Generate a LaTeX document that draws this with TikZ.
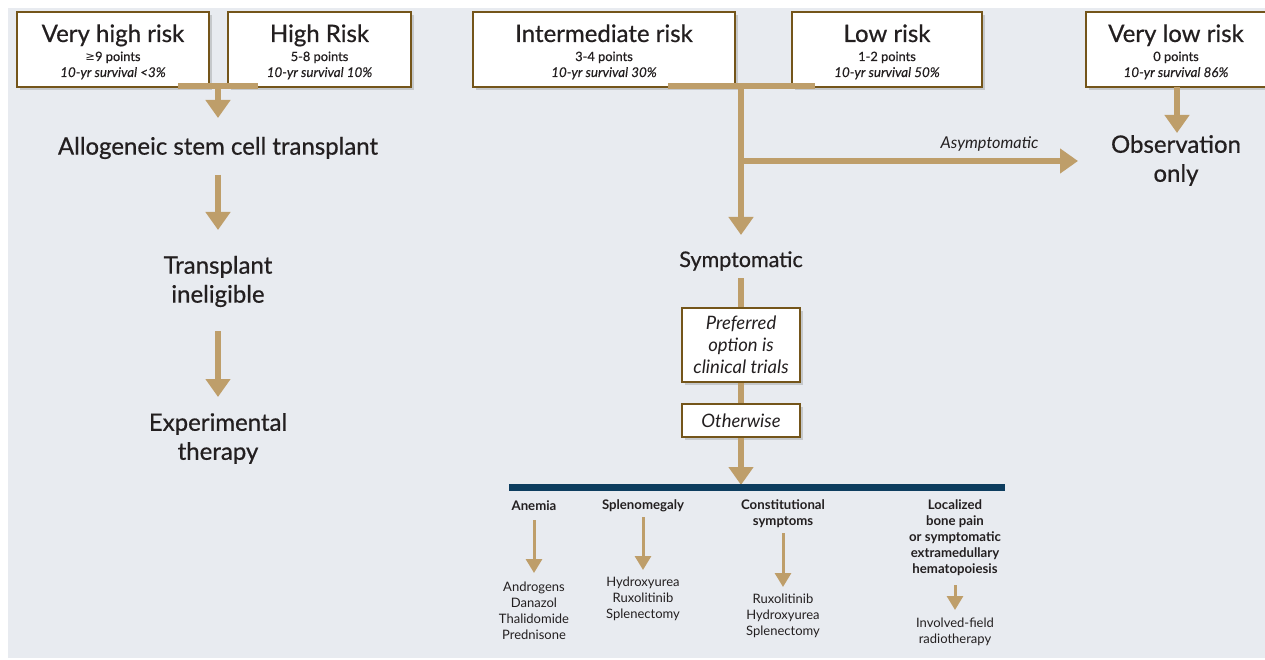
\documentclass[tikz,border=0pt]{standalone}
\usepackage{fontspec}
\setmainfont{Lato}
\newfontfamily\medf{Lato}[FakeBold=0.6]
\newfontfamily\medi{Lato Italic}[FakeBold=0.25]
\newfontfamily\dv{DejaVu Sans}
\usetikzlibrary{arrows.meta,shadows}
\definecolor{bg}{HTML}{E8EBF0}
\definecolor{tanc}{HTML}{BE9E6A}
\definecolor{boxc}{HTML}{74551A}
\definecolor{navy}{HTML}{0D3D5F}
\definecolor{txt}{HTML}{231F20}
\tikzset{
  riskbox/.style={draw=boxc, line width=2.6pt, fill=white, inner sep=0pt,
    drop shadow={shadow xshift=3pt, shadow yshift=-3pt, opacity=0.22, fill=black!70}},
  ttl/.style={anchor=base, font=\medf\fontsize{24}{28}\selectfont},
  pts/.style={anchor=base, font=\medf\fontsize{12.8}{15}\selectfont},
  srv/.style={anchor=base, font=\medi\fontsize{13.4}{15}\selectfont},
  big/.style={align=center, font=\medf\fontsize{24}{29}\selectfont},
  tline/.style={draw=tanc, line width=6pt},
  tarr/.style={tline, -{Triangle[width=24pt,length=18pt]}},
  sarr/.style={draw=tanc, line width=3pt, -{Triangle[width=16pt,length=14pt]}},
  head/.style={align=center, font=\fontsize{13.2}{16}\selectfont\bfseries},
  lst/.style={align=center, font=\fontsize{13}{16}\selectfont},
  optbox/.style={draw=boxc, line width=2.6pt, fill=white, inner sep=0pt, align=center,
    font=\fontsize{18.5}{22}\selectfont\itshape,
    drop shadow={shadow xshift=3pt, shadow yshift=-3pt, opacity=0.22, fill=black!70}},
}
\begin{document}
\begin{tikzpicture}[x=1pt,y=-1pt, every node/.style={text=txt}]
\useasboundingbox (0,0) rectangle (1265,660);
\fill[white] (0,0) rectangle (1265,660);
\fill[bg] (8,8) rectangle (1265,658);

% risk boxes
\node[riskbox, minimum width=192pt, minimum height=75pt] (vh) at (113,49.5) {};
\node[riskbox, minimum width=183pt, minimum height=75pt] (hr) at (319.5,49.5) {};
\node[riskbox, minimum width=262pt, minimum height=75pt] (ir) at (604,49.5) {};
\node[riskbox, minimum width=190pt, minimum height=75pt] (lr) at (887,49.5) {};
\node[riskbox, minimum width=180pt, minimum height=75pt] (vl) at (1176,49.5) {};

\node[ttl] (vht) at (113,42) {Very high risk};
\node[pts] (vhp) at (113,61) {{\dv\fontsize{11.5}{14}\selectfont ≥}9 points};
\node[srv] (vhs) at (113,77) {10-yr survival <3\%};
\node[ttl] (hrt) at (319.5,42) {High Risk};
\node[pts] (hrp) at (319.5,61) {5-8 points};
\node[srv] (hrs) at (319.5,77) {10-yr survival 10\%};
\node[ttl] (irt) at (604,42) {Intermediate risk};
\node[pts] (irp) at (604,61) {3-4 points};
\node[srv] (irs) at (604,77) {10-yr survival 30\%};
\node[ttl] (lrt) at (887,42) {Low risk};
\node[pts] (lrp) at (887,61) {1-2 points};
\node[srv] (lrs) at (887,77) {10-yr survival 50\%};
\node[ttl] (vlt) at (1176,42) {Very low risk};
\node[pts] (vlp) at (1176,61) {0 points};
\node[srv] (vls) at (1176,77) {10-yr survival 86\%};

% left column
\node[big] (allo) at (218,148) {Allogeneic stem cell transplant};
\node[big] (trans) at (218,281.5) {Transplant\\ineligible};
\node[big] (exp) at (218,438.5) {Experimental\\therapy};

\coordinate (lb1) at (178,86);
\coordinate (lb2) at (258,86);
\coordinate (lj) at (218,86);
\coordinate (la1) at (218,118);
\coordinate (la2s) at (218,175);
\coordinate (la2e) at (218,230);
\coordinate (la3s) at (218,331);
\coordinate (la3e) at (218,397);
\draw[tline] (lb1) -- (lb2);
\draw[tarr] (lj) -- (la1);
\draw[tarr] (la2s) -- (la2e);
\draw[tarr] (la3s) -- (la3e);

% very low risk
\node[big] (obs) at (1176,160.5) {Observation\\only};
\coordinate (vls0) at (1177,87);
\coordinate (vle) at (1177,133);
\draw[tarr] (vls0) -- (vle);

% middle
\coordinate (mb1) at (668,86);
\coordinate (mb2) at (815,86);
\coordinate (mj) at (741,86);
\coordinate (mbr) at (741,161);
\coordinate (mae) at (741,235);
\coordinate (asy) at (1078,161);
\draw[tline] (mb1) -- (mb2);
\draw[tarr] (mj) -- (mae);
\draw[tarr] (mbr) -- (asy);
\node[anchor=base east, font=\fontsize{16.3}{18}\selectfont\itshape] (asyt) at (1042,148.5) {Asymptomatic};

\node[font=\medf\fontsize{21.5}{24}\selectfont] (symp) at (741,261) {Symptomatic};
\node[optbox, minimum width=118pt, minimum height=74pt] (pref) at (741,345) {Preferred\\option is\\clinical trials};
\node[optbox, minimum width=118pt, minimum height=33pt] (oth) at (741,420.5) {Otherwise};
\coordinate (ss) at (741,278);
\draw[tline] (ss) -- (pref.north);
\draw[tline] (pref.south) -- (oth.north);
\coordinate (navyj) at (741,485);
\draw[tarr] (oth.south) -- (navyj);

\coordinate (nv1) at (509,487.5);
\coordinate (nv2) at (1005,487.5);
\draw[navy, line width=7pt] (nv1) -- (nv2);

% bottom columns
\node[head] (anh) at (534,506) {Anemia};
\node[head] (sph) at (643,506) {Splenomegaly};
\node[head] (coh) at (783,514) {Constitutional\\symptoms};
\node[head] (loh) at (955,538) {Localized\\bone pain\\or symptomatic\\extramedullary\\hematopoiesis};

\node[lst] (anl) at (534,611) {Androgens\\Danazol\\Thalidomide\\Prednisone};
\node[lst] (spl) at (643,599) {Hydroxyurea\\Ruxolitinib\\Splenectomy};
\node[lst] (col) at (783,616) {Ruxolitinib\\Hydroxyurea\\Splenectomy};
\node[lst] (lol) at (955,632) {Involved-field\\radiotherapy};

\coordinate (a1s) at (534,520); \coordinate (a1e) at (534,573);
\coordinate (a2s) at (643,517); \coordinate (a2e) at (643,570);
\coordinate (a3s) at (783,533); \coordinate (a3e) at (783,587);
\coordinate (a4s) at (955,585); \coordinate (a4e) at (955,610);
\draw[sarr] (a1s) -- (a1e);
\draw[sarr] (a2s) -- (a2e);
\draw[sarr] (a3s) -- (a3e);
\draw[sarr] (a4s) -- (a4e);
\end{tikzpicture}
\end{document}
